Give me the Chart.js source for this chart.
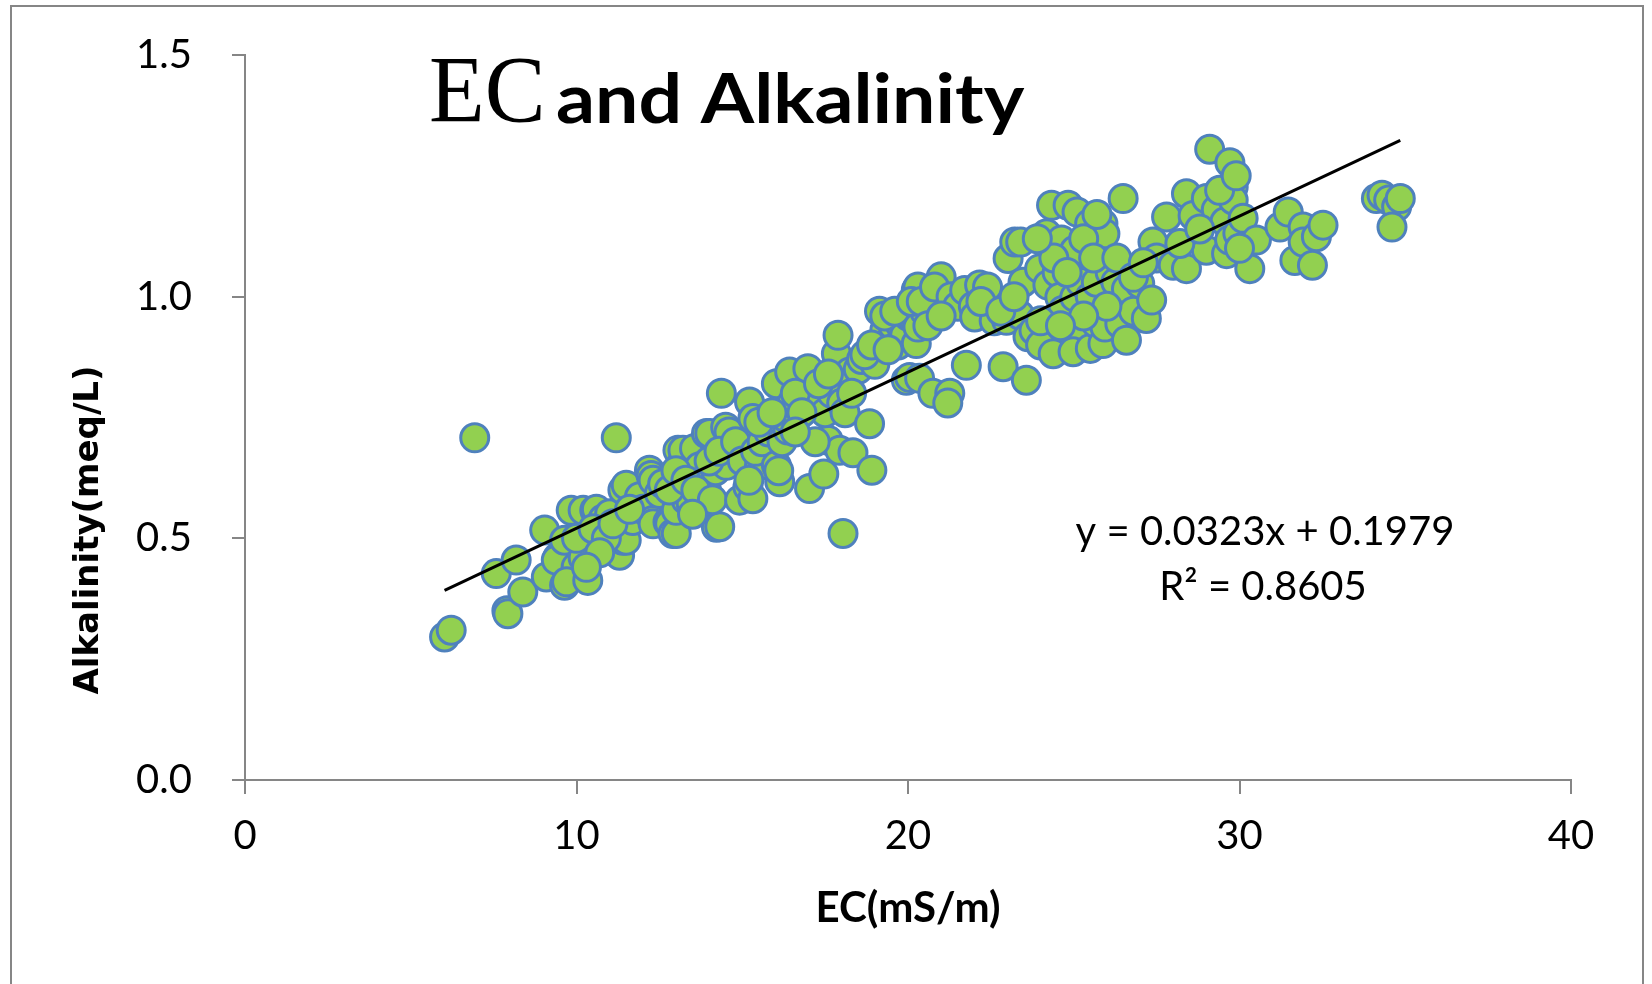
<!DOCTYPE html>
<html>
<head>
<meta charset="utf-8">
<script src="https://cdn.jsdelivr.net/npm/chart.js@4.4.1/dist/chart.umd.min.js"></script>
<style>
  html, body { margin: 0; padding: 0; background: #ffffff; }
  #wrap { position: relative; width: 1652px; height: 984px; }
  canvas { display: block; }
</style>
</head>
<body>
<div id="wrap"><canvas id="c" width="1652" height="984"></canvas></div>
<script>
// ---- data ----
const ecValues = [
  6.02,6.22,6.93,7.58,7.90,7.93,8.18,8.38,
  9.04,9.09,9.44,9.39,9.64,9.64,9.84,9.99,9.70,10.20,10.34,10.34,10.20,10.00,10.55,10.60,10.80,11.00,11.20,11.30,11.40,11.50,11.40,11.50,11.70,11.90,12.00,12.20,12.25,12.31,12.30,12.31,12.50,12.60,12.76,12.81,12.91,13.01,13.01,13.06,13.20,13.21,13.31,13.41,13.46,13.56,13.71,13.81,13.81,13.92,13.92,14.02,14.22,14.32,14.37,14.20,14.40,14.50,14.52,14.60,14.70,14.60,
  10.50,10.90,11.10,11.60,10.70,10.30,12.80,13.00,13.30,13.60,14.00,14.30,14.80,15.00,14.10,13.50,
  14.92,15.17,15.22,15.32,15.32,15.52,15.20,15.40,15.60,15.80,16.03,16.03,16.13,16.10,16.20,16.38,16.30,16.43,16.50,16.78,16.98,17.03,17.20,17.46,17.59,17.50,17.70,17.84,17.89,17.94,18.04,18.00,18.10,18.24,18.34,18.50,18.60,18.84,18.91,19.10,19.14,19.30,19.00,19.54,19.55,19.70,19.75,19.90,19.95,20.00,20.05,20.20,20.25,20.25,20.30,20.30,20.35,20.50,20.75,20.70,20.90,21.00,21.10,21.26,21.20,
  15.50,15.90,16.60,16.80,17.30,17.60,18.30,17.20,16.60,18.70,18.90,19.30,19.60,20.10,20.40,20.80,21.30,21.50,19.40,20.60,21.00,
  21.71,21.76,21.97,22.01,22.16,22.40,22.60,22.87,22.97,23.02,23.22,23.40,23.37,23.47,23.57,23.62,23.80,23.97,24.00,24.18,24.22,24.33,24.38,24.50,24.58,24.63,24.68,24.83,24.98,24.98,25.03,25.03,25.10,25.20,25.48,25.50,25.50,25.68,25.68,25.88,25.88,25.88,25.94,25.94,26.10,26.27,26.39,26.49,26.59,26.59,26.80,26.99,27.19,27.35,27.39,27.50,27.80,28.00,28.40,28.40,28.60,29.00,29.00,29.10,29.30,29.56,29.61,29.70,29.71,29.81,29.81,29.95,30.11,30.31,30.51,31.22,31.47,31.67,31.92,31.92,32.20,32.32,32.52,34.13,34.30,34.50,34.74,34.60,34.85,
  22.20,22.80,23.20,24.00,24.40,24.80,25.30,25.60,26.00,26.30,25.30,24.60,23.90,25.70,26.80,27.10,28.20,28.80,29.40,29.90,30.00
];
const alkValues = [
  0.296,0.310,0.708,0.427,0.350,0.344,0.455,0.389,
  0.517,0.420,0.461,0.455,0.403,0.496,0.558,0.441,0.410,0.558,0.489,0.413,0.460,0.500,0.558,0.560,0.540,0.551,0.708,0.465,0.496,0.496,0.600,0.610,0.537,0.586,0.560,0.641,0.630,0.620,0.537,0.530,0.593,0.613,0.534,0.530,0.510,0.510,0.558,0.682,0.658,0.682,0.579,0.620,0.572,0.686,0.648,0.565,0.572,0.600,0.717,0.717,0.523,0.524,0.800,0.640,0.660,0.730,0.651,0.700,0.690,0.720,
  0.520,0.500,0.530,0.560,0.470,0.440,0.600,0.640,0.620,0.600,0.660,0.680,0.700,0.660,0.580,0.550,
  0.579,0.606,0.782,0.748,0.582,0.651,0.620,0.680,0.700,0.720,0.820,0.651,0.617,0.640,0.700,0.724,0.750,0.844,0.780,0.796,0.851,0.603,0.780,0.633,0.703,0.760,0.800,0.882,0.920,0.682,0.510,0.780,0.760,0.844,0.677,0.850,0.870,0.737,0.641,0.896,0.970,0.930,0.860,0.916,0.940,0.900,0.944,0.920,0.827,0.960,0.833,0.950,1.014,0.903,1.020,0.937,0.831,0.970,0.800,0.990,1.000,1.041,0.993,0.800,0.780,
  0.740,0.760,0.800,0.760,0.820,0.840,0.800,0.700,0.720,0.880,0.900,0.960,0.970,0.990,0.990,1.020,1.000,0.980,0.890,0.940,0.960,
  1.013,0.858,0.980,0.958,1.024,1.020,0.950,0.855,0.951,1.079,1.113,1.113,0.962,1.030,0.827,0.917,0.930,1.058,0.900,1.130,1.024,1.189,0.882,1.050,0.999,1.117,0.972,1.189,0.920,0.886,0.999,1.096,1.175,1.030,1.151,0.893,1.000,1.030,0.944,1.151,1.100,0.903,0.937,1.130,1.050,1.030,0.944,1.203,0.910,1.016,0.970,1.027,0.955,0.993,1.113,1.080,1.165,1.065,1.058,1.213,1.168,1.203,1.096,1.305,1.180,1.155,1.089,1.117,1.277,1.227,1.200,1.131,1.162,1.058,1.117,1.144,1.175,1.075,1.144,1.113,1.065,1.124,1.148,1.203,1.210,1.200,1.186,1.144,1.203,
  0.990,0.970,1.000,0.950,1.080,1.050,1.120,1.080,0.980,1.080,0.960,0.940,1.120,1.170,1.040,1.070,1.110,1.140,1.220,1.250,1.100
];
const trendSlope = 0.0323;
const trendIntercept = 0.1979;
const xTickValues = [0, 10, 20, 30, 40];
const yTickLabels = ['0.0', '0.5', '1.0', '1.5'];
const titleSerifPart = 'EC';
const titleSansPart = 'and Alkalinity';
const xAxisTitle = 'EC(mS/m)';
const yAxisTitle = 'Alkalinity(meq/L)';
const equationLines = ['y = 0.0323x + 0.1979', 'R² = 0.8605'];

// ---- build datasets ----
const points = ecValues.map((x, i) => ({ x: x, y: alkValues[i] }));
const xMin = Math.min(...ecValues), xMax = Math.max(...ecValues);
const trendPts = [
  { x: xMin, y: trendSlope * xMin + trendIntercept },
  { x: xMax, y: trendSlope * xMax + trendIntercept }
];

const AXIS_GRAY = '#868686';

function stretchedText(ctx, text, x, y, sx) {
  ctx.save();
  ctx.translate(x, y);
  ctx.scale(sx, 1);
  ctx.fillText(text, 0, 0);
  ctx.restore();
}

const decorPlugin = {
  id: 'decor',
  beforeDraw(chart) {
    const ctx = chart.ctx;
    ctx.save();
    ctx.fillStyle = '#ffffff';
    ctx.fillRect(0, 0, chart.width, chart.height);
    ctx.strokeStyle = AXIS_GRAY;
    ctx.lineWidth = 2;
    ctx.strokeRect(11, 6, 1632, 1000);
    ctx.restore();
  },
  afterDraw(chart) {
    const ctx = chart.ctx;
    const area = chart.chartArea;
    ctx.save();
    ctx.fillStyle = '#000000';
    ctx.textBaseline = 'alphabetic';
    // title
    ctx.textAlign = 'left';
    ctx.font = '95px "Liberation Serif"';
    stretchedText(ctx, titleSerifPart, 429, 122, 0.96);
    ctx.font = 'bold 69px Lato';
    stretchedText(ctx, titleSansPart, 556, 123, 1.115);
    // equation
    ctx.textAlign = 'center';
    ctx.font = '40px Lato';
    ctx.fillText(equationLines[0], 1265, 545);
    ctx.fillText(equationLines[1], 1263, 600);
    // axis titles
    ctx.textBaseline = 'middle';
    ctx.font = 'bold 42px Lato';
    ctx.fillText(xAxisTitle, (area.left + area.right) / 2, 908);
    ctx.save();
    ctx.translate(89, 530);
    ctx.rotate(-Math.PI / 2);
    ctx.font = 'bold 34px "DejaVu Sans"';
    ctx.fillText(yAxisTitle, 0, 0);
    ctx.restore();
    ctx.restore();
  }
};

new Chart(document.getElementById('c'), {
  type: 'scatter',
  data: {
    datasets: [
      {
        label: 'trend',
        data: trendPts,
        type: 'line',
        showLine: true,
        borderColor: '#000000',
        borderWidth: 3,
        pointRadius: 0,
        fill: false
      },
      {
        label: 'Alkalinity',
        data: points,
        backgroundColor: '#92D050',
        borderColor: '#4F81BD',
        borderWidth: 3,
        pointRadius: 14,
        pointHoverRadius: 14
      }
    ]
  },
  options: {
    responsive: false,
    animation: false,
    events: [],
    layout: { padding: { left: 136, right: 81, top: 55, bottom: 0 } },
    plugins: { legend: { display: false }, tooltip: { enabled: false }, title: { display: false } },
    scales: {
      x: {
        type: 'linear',
        min: 0, max: 40,
        afterFit(scale) { scale.height = 204; },
        afterBuildTicks(scale) { scale.ticks = xTickValues.map(v => ({ value: v })); },
        grid: { drawOnChartArea: false, drawTicks: true, tickLength: 14, color: AXIS_GRAY, lineWidth: 2 },
        border: { display: true, color: AXIS_GRAY, width: 2 },
        ticks: { color: '#000000', font: { family: 'Lato', size: 40 }, padding: 18, maxRotation: 0,
                 callback: (v) => String(v) },
        title: { display: false }
      },
      y: {
        type: 'linear',
        min: 0, max: 1.5,
        afterFit(scale) { scale.width = 109; },
        afterBuildTicks(scale) { scale.ticks = yTickLabels.map(s => ({ value: parseFloat(s) })); },
        grid: { drawOnChartArea: false, drawTicks: true, tickLength: 13, color: AXIS_GRAY, lineWidth: 2 },
        border: { display: true, color: AXIS_GRAY, width: 2 },
        ticks: { color: '#000000', font: { family: 'Lato', size: 40 }, padding: 2, crossAlign: 'far',
                 callback: (v) => yTickLabels.find(s => parseFloat(s) === v) },
        title: { display: false }
      }
    }
  },
  plugins: [decorPlugin]
});
</script>
</body>
</html>
